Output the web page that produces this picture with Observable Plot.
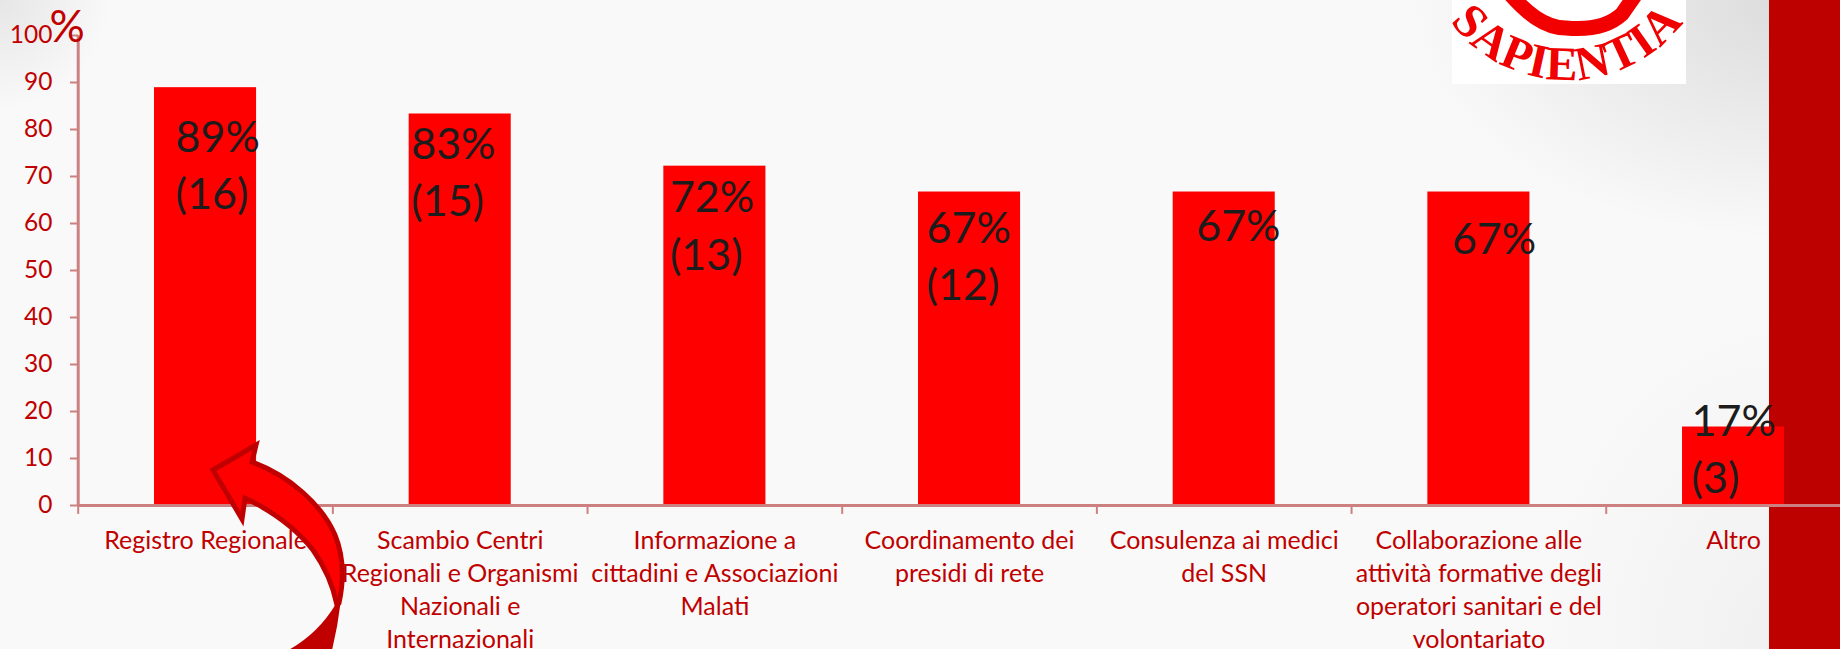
<!DOCTYPE html>
<html lang="it">
<head>
<meta charset="utf-8">
<script src="https://cdn.jsdelivr.net/npm/d3@7"></script>
<script src="https://cdn.jsdelivr.net/npm/@observablehq/plot@0.6"></script>
<style>
html,body{margin:0;padding:0;width:1840px;height:649px;overflow:hidden;background:#f9f9f9}
#page{position:relative;width:1840px;height:649px;overflow:hidden;
background:
 radial-gradient(circle at 0 0,#e6e6e6 0,rgba(249,249,249,0) 110px),
 radial-gradient(ellipse 380px 240px at 1790px 0,#dcdcdc 0,rgba(249,249,249,0) 100%),
 radial-gradient(ellipse 260px 340px at 1790px 649px,#f0f0f0 0,rgba(249,249,249,0) 100%),
 #f9f9f9;font-family:Lato,sans-serif}
#strip{position:absolute;left:1769px;top:0;width:71px;height:649px;background:#bd0000}
#page svg{position:absolute;left:0;top:0}
</style>
</head>
<body>
<div id="page">
<div id="strip"></div>
<svg width="1840" height="649" viewBox="0 0 1840 649" id="logo">
 <defs>
  <clipPath id="logoClip"><rect x="1452" y="0" width="234" height="84"/></clipPath>
  <path id="arc" d="M1421,-66 A146,146 0 0 0 1713,-66" fill="none"/>
 </defs>
 <rect x="1452" y="0" width="234" height="84" fill="#ffffff"/>
 <g clip-path="url(#logoClip)">
  <path d="M1510,-6 C1526,12 1544,28 1566,28 C1588,30 1608,27 1622,14 L1636,-6" fill="none" stroke="#f20000" stroke-width="15"/>
  <text font-family="Liberation Serif" font-weight="700" font-size="48" fill="#f00000" letter-spacing="1" text-anchor="middle"><textPath href="#arc" startOffset="50%">SAPIENTIA</textPath></text>
 </g>
</svg>
<div id="chart"></div>
<svg width="1840" height="649" viewBox="0 0 1840 649" id="arrow">
 <path d="M337,605 C325,625 310,640 288,652 L330,652 C334,636 337,620 339,603 Z" fill="#c00000" stroke="#c00000" stroke-width="3"/>
 <path d="M213,470 L256,445 L252,462 C290,476 322,505 335,535 C344,557 344,580 339,603 L337,605 C333,585 325,567 313,550 C295,527 270,510 245,498 L242,519 Z" fill="#ff0000" stroke="#c00000" stroke-width="5" stroke-linejoin="miter"/>
</svg>
</div>
<script>
const categories = [
  "Registro Regionale",
  "Scambio Centri\nRegionali e Organismi\nNazionali e\nInternazionali",
  "Informazione a\ncittadini e Associazioni\nMalati",
  "Coordinamento dei\npresidi di rete",
  "Consulenza ai medici\ndel SSN",
  "Collaborazione alle\nattività formative degli\noperatori sanitari e del\nvolontariato",
  "Altro"
];
const percentages = [88.9, 83.3, 72.2, 66.7, 66.7, 66.7, 16.7];
const barLabels = ["89%\n(16)", "83%\n(15)", "72%\n(13)", "67%\n(12)", "67%", "67%", "17%\n(3)"];
const yTicks = [0, 10, 20, 30, 40, 50, 60, 70, 80, 90, 100];

// label placement, kept apart from the values
const labelDx = [-30, -49, -45, -43, -28, -27, -42];
const labelDy = [24, 4, 5.6, 10.7, 8.7, 21.7, -31.7];

const table = categories.map((category, i) => ({category, value: percentages[i], label: barLabels[i]}));
const axisColor = "#cd8080", textRed = "#c00000";
const band = 254.67;

const plot = Plot.plot({
  width: 1840, height: 649,
  marginTop: 35, marginBottom: 144, marginLeft: 78, marginRight: 0,
  style: {background: "transparent", fontFamily: "Lato, sans-serif"},
  x: {domain: categories, range: [77.7, 77.7 + band * 7], padding: 0, round: false},
  y: {domain: [0, 100], range: [505, 35]},
  marks: [
    Plot.barY(table, {x: "category", y: "value", fill: "#ff0000", insetLeft: 76.3, insetRight: 76.3}),
    Plot.ruleX(categories, {x: d => d, y1: 0, y2: -1.9, dx: -band / 2, stroke: axisColor, strokeWidth: 2}),
    Plot.ruleX(categories.slice(0, 1), {x: d => d, y1: 0, y2: 100, dx: -band / 2, stroke: axisColor, strokeWidth: 3}),
    Plot.ruleY([0], {stroke: axisColor, strokeWidth: 3}),
    Plot.axisY({ticks: yTicks, tickSize: 8, tickPadding: 18, stroke: axisColor, strokeWidth: 2, fill: textRed, fontSize: 24.5, label: null}),
    Plot.axisX({tickSize: 0, tickPadding: 20, fill: textRed, fontSize: 25, lineHeight: 1.32, lineAnchor: "top", label: null}),
    ...table.map((d, i) => Plot.text([d], {
      x: "category", y: "value", text: "label",
      textAnchor: "start", lineAnchor: "top", lineHeight: 1.33,
      fontSize: 43, fill: "#1c1c1c", dx: labelDx[i], dy: labelDy[i]
    })),
    Plot.text(["%"], {frameAnchor: "top-left", dx: -29, dy: -8, textAnchor: "start", lineAnchor: "middle", fontSize: 44, fill: textRed})
  ]
});
document.getElementById("chart").appendChild(plot);
</script>
</body>
</html>
